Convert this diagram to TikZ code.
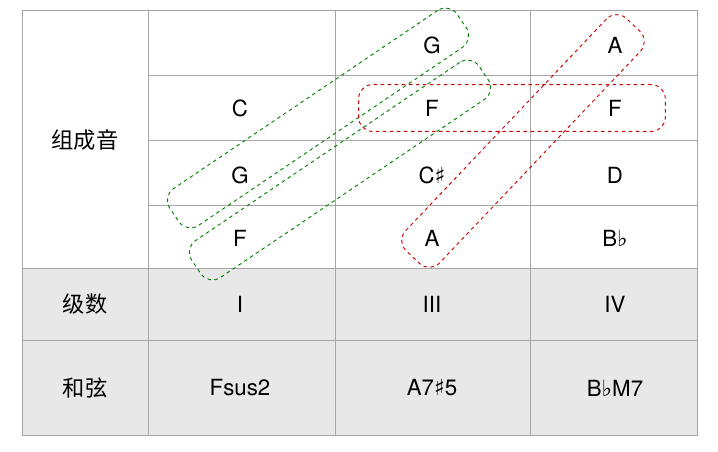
\documentclass[tikz,border=0pt]{standalone}
\usepackage{fontspec}
\setmainfont{TeX Gyre Heros}
\newfontfamily\cjk{Noto Sans CJK SC}
\newfontfamily\symf{DejaVu Sans}
\newcommand\shp{{\symf\char"266F}}
\newcommand\flt{{\symf\char"266D}}
\tikzset{
  grid/.style={draw=gray!70, line width=0.8pt},
  cell/.style={font=\fontsize{19}{22}\selectfont, inner sep=0pt},
  zh/.style={font=\cjk\fontsize{19}{22}\selectfont, inner sep=0pt},
  grp/.style={draw=#1, dashed, line width=0.8pt, rounded corners=12pt, minimum height=38pt, inner sep=0pt},
}
\begin{document}
\begin{tikzpicture}[x=0.03cm, y=-0.03cm]
  \useasboundingbox (0,0) rectangle (718,452);
  % gray rows
  \fill[gray!18] (22,268) rectangle (697,435);
  % grid lines
  \draw[grid] (22,10) rectangle (697,435);
  \foreach \x in {148,335,530} \draw[grid] (\x,10) -- (\x,435);
  \foreach \y in {75,140,205} \draw[grid] (148,\y) -- (697,\y);
  \foreach \y in {268,340} \draw[grid] (22,\y) -- (697,\y);
  % texts
  \node[zh] (zc) at (85,140) {组成音};
  \node[zh] (jsh) at (85,304) {级数};
  \node[zh] (hx) at (85,388) {和弦};
  \node[cell] (c1) at (240,108) {C};
  \node[cell] (g1) at (240,175) {G};
  \node[cell] (f1) at (240,238) {F};
  \node[cell] (g2) at (432,45) {G};
  \node[cell] (f2) at (432,108) {F};
  \node[cell] (cs2) at (432,175) {C\shp};
  \node[cell] (a2) at (432,238) {A};
  \node[cell] (a3) at (615,45) {A};
  \node[cell] (f3) at (615,108) {F};
  \node[cell] (d3) at (615,175) {D};
  \node[cell] (b3) at (615,238) {B\flt};
  \node[cell] (l1) at (240,304) {I};
  \node[cell] (l2) at (432,304) {III};
  \node[cell] (l3) at (615,304) {IV};
  \node[cell] (h1) at (240,388) {Fsus2};
  \node[cell] (h2) at (432,388) {A7\shp5};
  \node[cell] (h3) at (615,388) {B\flt M7};
  % dashed groups
  \node[grp=green!50!black, minimum width=10.4cm, rotate=34] (gA) at (318,118) {};
  \node[grp=green!50!black, minimum width=10.4cm, rotate=34] (gB) at (340,170) {};
  \node[grp=red!80!black, minimum width=9.6cm, minimum height=40pt, rotate=46.5] (rA) at (523,141) {};
  \node[grp=red!80!black, minimum width=9.2cm, minimum height=40pt] (rB) at (512,108) {};
\end{tikzpicture}
\end{document}
